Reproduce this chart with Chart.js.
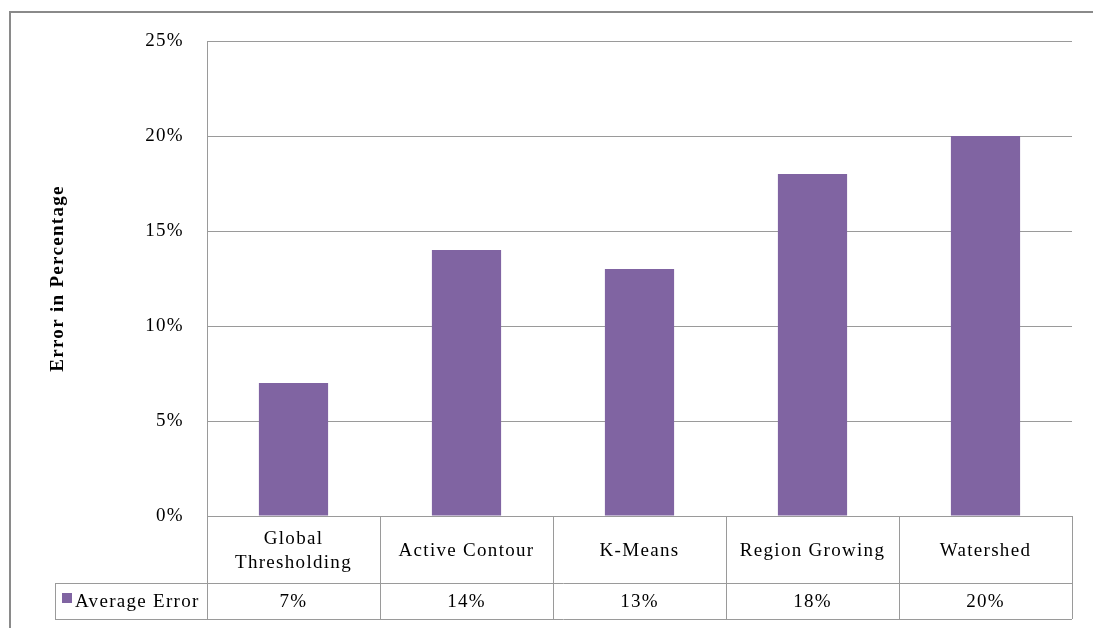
<!DOCTYPE html>
<html>
<head>
<meta charset="utf-8">
<script src="https://cdn.jsdelivr.net/npm/chart.js@4.4.0/dist/chart.umd.min.js"></script>
<style>
  html, body { margin: 0; padding: 0; background: #fff; }
  #wrap { width: 1093px; height: 628px; }
</style>
</head>
<body>
<div id="wrap"><canvas id="chart" width="1093" height="628"></canvas></div>
<script>
// data
const methods = [['Global', 'Thresholding'], 'Active Contour', 'K-Means', 'Region Growing', 'Watershed'];
const averageError = [7, 14, 13, 18, 20];
const seriesName = 'Average Error';
const yTitle = 'Error in Percentage';

const barColor = '#8064A2';
const lineColor = '#9a9a9a';
const serif = '"Liberation Serif", "Times New Roman", serif';
const fontSize = 19;
const spacing = '1.3px';

// draws the outer frame and the data table under the plot
const dataTable = {
    id: 'dataTable',
    beforeUpdate(chart) {
        chart.ctx.letterSpacing = spacing;
    },
    beforeDraw(chart) {
        const ctx = chart.ctx;
        ctx.letterSpacing = spacing;
        ctx.save();
        ctx.strokeStyle = '#8a8a8a';
        ctx.lineWidth = 2;
        ctx.strokeRect(10, 12, 2000, 2000);
        ctx.restore();
    },
    afterDraw(chart) {
        const { ctx, chartArea, scales } = chart;
        const x = scales.x;
        const top = chartArea.bottom;
        const row1 = top + 67;
        const row2 = top + 103;
        const half = (x.getPixelForValue(1) - x.getPixelForValue(0)) / 2;
        const legendLeft = chartArea.left - 152;

        ctx.save();
        ctx.strokeStyle = lineColor;
        ctx.lineWidth = 1;
        ctx.beginPath();
        // horizontal lines
        ctx.moveTo(chartArea.left, top + 0.5); ctx.lineTo(chartArea.right, top + 0.5);
        ctx.moveTo(legendLeft, row1 + 0.5); ctx.lineTo(chartArea.right, row1 + 0.5);
        ctx.moveTo(legendLeft, row2 + 0.5); ctx.lineTo(chartArea.right, row2 + 0.5);
        // legend cell left edge
        ctx.moveTo(legendLeft + 0.5, row1); ctx.lineTo(legendLeft + 0.5, row2);
        // column edges
        for (let i = 0; i <= methods.length; i++) {
            const cx = Math.round(x.getPixelForValue(i) - half) + 0.5;
            ctx.moveTo(cx, top); ctx.lineTo(cx, row2);
        }
        ctx.stroke();

        ctx.fillStyle = '#000';
        ctx.font = fontSize + 'px ' + serif;
        ctx.letterSpacing = spacing;
        ctx.textAlign = 'center';
        ctx.textBaseline = 'middle';
        methods.forEach((m, i) => {
            const cx = x.getPixelForValue(i);
            const lines = Array.isArray(m) ? m : [m];
            const mid = (top + row1) / 2 + 2;
            lines.forEach((t, j) => {
                ctx.fillText(t, cx, mid + (j - (lines.length - 1) / 2) * 24);
            });
            ctx.fillText(averageError[i] + '%', cx, (row1 + row2) / 2 + 1);
        });

        // legend key
        ctx.fillStyle = barColor;
        ctx.fillRect(legendLeft + 7, row1 + 10, 10, 10);
        ctx.fillStyle = '#000';
        ctx.textAlign = 'left';
        ctx.fillText(seriesName, legendLeft + 20, (row1 + row2) / 2 + 1);
        ctx.restore();
    }
};

new Chart(document.getElementById('chart'), {
    type: 'bar',
    data: {
        labels: methods,
        datasets: [{
            label: seriesName,
            data: averageError,
            backgroundColor: barColor,
            categoryPercentage: 1,
            barPercentage: 0.4
        }]
    },
    options: {
        responsive: false,
        animation: false,
        layout: { padding: { left: 0, top: 41, right: 21, bottom: 112 } },
        plugins: {
            legend: { display: false },
            tooltip: { enabled: false }
        },
        scales: {
            x: { display: false },
            y: {
                min: 0,
                max: 25,
                afterFit(scale) { scale.width = 207; },
                ticks: {
                    stepSize: 5,
                    padding: 23,
                    color: '#000',
                    font: { family: serif, size: fontSize },
                    callback: v => v + '%'
                },
                grid: { color: lineColor, drawTicks: false },
                border: { display: true, color: lineColor },
                title: {
                    display: true,
                    text: yTitle,
                    color: '#000',
                    padding: { top: 47, bottom: 0 },
                    font: { family: serif, size: fontSize, weight: 'bold' }
                }
            }
        }
    },
    plugins: [dataTable]
});
</script>
</body>
</html>
